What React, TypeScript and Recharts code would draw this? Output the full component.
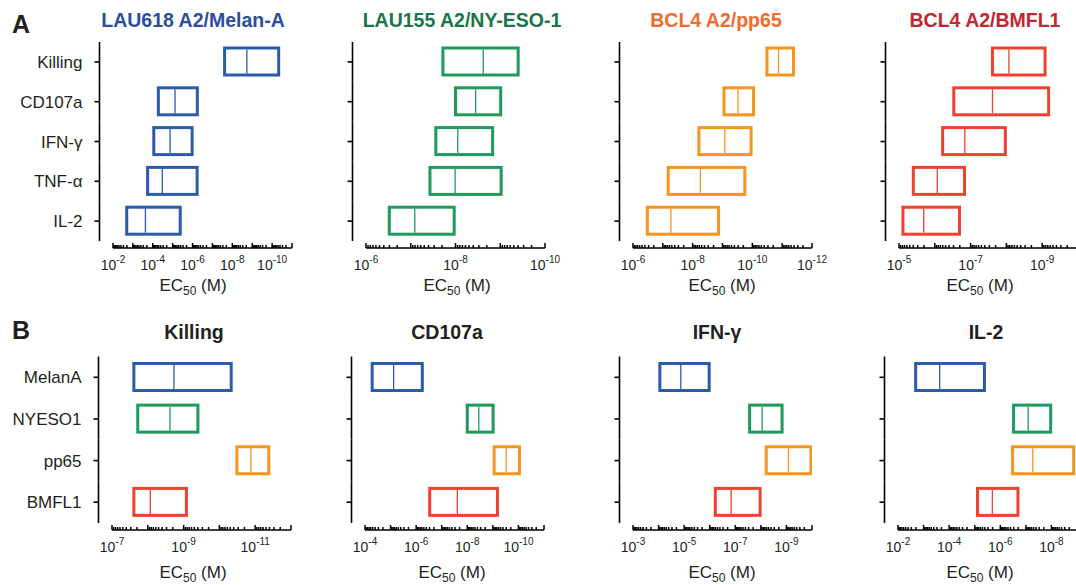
import React from "react";
import { BarChart, Bar, XAxis, YAxis } from "recharts";

const FONT = '"Liberation Sans", Arial, Helvetica, sans-serif';

// ---------- data ----------
const functions = ["Killing", "CD107a", "IFN-γ", "TNF-α", "IL-2"];
const peptides = ["MelanA", "NYESO1", "pp65", "BMFL1"];

// EC50 (M) per function (order of `functions`): highest, median, lowest
const melanAMax = [2.45e-8, 5.25e-5, 8.91e-5, 1.82e-4, 2.04e-3];
const melanAMedian = [1.86e-9, 7.59e-6, 1.35e-5, 3.31e-5, 2.34e-4];
const melanAMin = [4.68e-11, 5.75e-7, 1.05e-6, 5.89e-7, 4.17e-6];

const nyeso1Max = [1.91e-8, 1.0e-8, 2.75e-8, 3.72e-8, 3.02e-7];
const nyeso1Median = [2.4e-9, 3.55e-9, 8.91e-9, 1.02e-8, 8.13e-8];
const nyeso1Min = [3.98e-10, 9.77e-10, 1.48e-9, 9.55e-10, 1.07e-8];

const pp65Max = [3.24e-11, 8.91e-10, 6.17e-9, 6.61e-8, 3.31e-7];
const pp65Median = [1.32e-11, 3.02e-10, 8.32e-10, 5.5e-9, 5.37e-8];
const pp65Min = [4.17e-12, 9.12e-11, 1.1e-10, 1.78e-10, 1.35e-9];

const bmfl1Max = [2.45e-8, 2.95e-7, 6.03e-7, 3.98e-6, 7.76e-6];
const bmfl1Median = [8.51e-9, 2.45e-8, 1.45e-7, 8.51e-7, 2.04e-6];
const bmfl1Min = [8.32e-10, 6.61e-10, 1.07e-8, 1.48e-7, 2.04e-7];

const rowATitles = ["LAU618 A2/Melan-A", "LAU155 A2/NY-ESO-1", "BCL4 A2/pp65", "BCL4 A2/BMFL1"];
const rowBFunctionIndex = [0, 1, 2, 4];

// x-axis decade ranges (exponents) and labelled decades
const rowADomains = [[-2, -11], [-6, -10], [-6, -12], [-5, -10]];
const rowALabels = [[-2, -4, -6, -8, -10], [-6, -8, -10], [-6, -8, -10, -12], [-5, -7, -9]];
const rowBDomains = [[-7, -12], [-4, -11], [-3, -10], [-2, -9]];
const rowBLabels = [[-7, -9, -11], [-4, -6, -8, -10], [-3, -5, -7, -9], [-2, -4, -6, -8]];

// ---------- styles / layout ----------
const peptideColors = ["#2B5CAA", "#1E9A5C", "#F7941E", "#EE4231"];
const titleColors = ["#2A4DA0", "#17774A", "#F26A2C", "#C3262F"];
const TEXT = "#231F20";

const Y_W = 113;
const AXIS_GAP = 13.5;
const PLOT_W = 179;
const RIGHT_M = 30;
const PAD_BOTTOM = 7;
const X_H = 30;

const seriesByPeptide = [
  [melanAMax, melanAMedian, melanAMin],
  [nyeso1Max, nyeso1Median, nyeso1Min],
  [pp65Max, pp65Median, pp65Min],
  [bmfl1Max, bmfl1Median, bmfl1Min],
];

function buildTicks(hiExp: number, loExp: number) {
  const t: number[] = [];
  for (let e = loExp; e <= hiExp; e++) {
    t.push(Math.pow(10, e));
    if (e < hiExp) for (let m = 2; m <= 9; m++) t.push(m * Math.pow(10, e));
  }
  return t;
}

const BoxShape = (props: any) => {
  const { x, y, width, height, payload } = props;
  const color = peptideColors[payload.pep];
  const lMax = Math.log10(payload.max);
  const lMin = Math.log10(payload.min);
  const lMed = Math.log10(payload.median);
  const xMax = x;
  const xMin = x + width;
  const mx = xMax + ((xMin - xMax) * (lMax - lMed)) / (lMax - lMin);
  const x0 = Math.min(xMax, xMin);
  const w = Math.abs(xMin - xMax);
  return (
    <g>
      <rect x={x0} y={y} width={w} height={height} fill="#fff" stroke={color} strokeWidth={3} />
      <line x1={mx} x2={mx} y1={y + 1.5} y2={y + height - 1.5} stroke={color} strokeWidth={1.3} />
    </g>
  );
};

const YTick = (props: any) => {
  const { x, y, payload, showLabel, band } = props;
  const ax = x - AXIS_GAP;
  return (
    <g>
      <line x1={ax} x2={ax} y1={y - band / 2} y2={y + band / 2} stroke="#000" strokeWidth={1.6} />
      <line x1={ax - 5} x2={ax} y1={y} y2={y} stroke="#000" strokeWidth={1.6} />
      {showLabel && (
        <text x={ax - 17} y={y + 6} textAnchor="end" fontSize={17} fontFamily={FONT} fill={TEXT}>
          {payload.value}
        </text>
      )}
    </g>
  );
};

const XTick = (props: any) => {
  const { x, y, payload, labels } = props;
  const e = Math.log10(payload.value);
  const re = Math.round(e);
  const isDecade = Math.abs(e - re) < 1e-6;
  const len = isDecade ? 5 : 3;
  return (
    <g>
      <line x1={x} x2={x} y1={y} y2={y - len} stroke="#000" strokeWidth={1.5} />
      {isDecade && labels.includes(re) && (
        <text x={x} y={y + 21.5} textAnchor="middle" fontSize={14} fontFamily={FONT} fill={TEXT}>
          10
          <tspan fontSize={10} dy={-6.5}>
            {String(re)}
          </tspan>
        </text>
      )}
    </g>
  );
};

type PanelProps = {
  data: any[];
  dom: number[];
  labels: number[];
  plotLeft: number;
  top: number;
  marginTop: number;
  bandsH: number;
  showCat: boolean;
};

const Panel = ({ data, dom, labels, plotLeft, top, marginTop, bandsH, showCat }: PanelProps) => {
  const band = bandsH / data.length;
  const height = marginTop + bandsH + PAD_BOTTOM + X_H;
  const width = Y_W + PLOT_W + RIGHT_M;
  const ticks = buildTicks(dom[0], dom[1]);
  return (
    <div style={{ position: "absolute", left: plotLeft - Y_W, top }}>
      <BarChart
        width={width}
        height={height}
        layout="vertical"
        data={data}
        margin={{ top: marginTop, right: RIGHT_M, bottom: 0, left: 0 }}
      >
        <XAxis
          type="number"
          scale="log"
          domain={[Math.pow(10, dom[1]), Math.pow(10, dom[0])]}
          reversed
          allowDataOverflow
          ticks={ticks}
          interval={0}
          tickLine={false}
          tickSize={0}
          tickMargin={0}
          height={X_H}
          axisLine={{ stroke: "#000", strokeWidth: 1.6 }}
          tick={(p: any) => <XTick {...p} labels={labels} />}
        />
        <YAxis
          type="category"
          dataKey="name"
          width={Y_W}
          axisLine={false}
          tickLine={false}
          tickSize={0}
          tickMargin={0}
          interval={0}
          padding={{ top: 0, bottom: PAD_BOTTOM }}
          tick={(p: any) => <YTick {...p} showLabel={showCat} band={band} />}
        />
        <Bar
          dataKey={(d: any) => [d.max, d.min]}
          barSize={27}
          isAnimationActive={false}
          shape={BoxShape}
        />
      </BarChart>
    </div>
  );
};

const rowAPlotLefts = [113, 366, 632.7, 899];
const rowBPlotLefts = [112, 364.5, 632.7, 898.3];
const rowATitleX = [193, 462, 716, 985];
const rowBTitleX = [194, 447, 717, 986];
const rowAAxisX = [193, 457, 722, 980];
const rowBAxisX = [193, 452, 722, 980];

const AxisTitle = ({ x, y }: { x: number; y: number }) => (
  <text x={x} y={y} textAnchor="middle" fontSize={17} fontFamily={FONT} fill={TEXT}>
    EC
    <tspan fontSize={12} dy={4}>
      50
    </tspan>
    <tspan dy={-4}> (M)</tspan>
  </text>
);

export default function App() {
  const rowAData = peptides.map((_, p) =>
    functions.map((f, i) => ({
      name: f,
      pep: p,
      max: seriesByPeptide[p][0][i],
      median: seriesByPeptide[p][1][i],
      min: seriesByPeptide[p][2][i],
    }))
  );
  const rowBData = rowBFunctionIndex.map((fi) =>
    peptides.map((pn, p) => ({
      name: pn,
      pep: p,
      max: seriesByPeptide[p][0][fi],
      median: seriesByPeptide[p][1][fi],
      min: seriesByPeptide[p][2][fi],
    }))
  );

  return (
    <div
      style={{
        position: "absolute",
        left: 0,
        top: 0,
        width: 1076,
        height: 585,
        overflow: "hidden",
        background: "#fff",
        fontFamily: FONT,
      }}
    >
      {rowAData.map((d, i) => (
        <Panel
          key={"a" + i}
          data={d}
          dom={rowADomains[i]}
          labels={rowALabels[i]}
          plotLeft={rowAPlotLefts[i]}
          top={0}
          marginTop={42}
          bandsH={199}
          showCat={i === 0}
        />
      ))}
      {rowBData.map((d, i) => (
        <Panel
          key={"b" + i}
          data={d}
          dom={rowBDomains[i]}
          labels={rowBLabels[i]}
          plotLeft={rowBPlotLefts[i]}
          top={300}
          marginTop={56.5}
          bandsH={166.5}
          showCat={i === 0}
        />
      ))}
      <svg
        width={1076}
        height={585}
        style={{ position: "absolute", left: 0, top: 0, pointerEvents: "none" }}
      >
        <text x={12} y={33} fontSize={25} fontWeight="bold" fontFamily={FONT} fill={TEXT}>
          A
        </text>
        <text x={12} y={339} fontSize={25} fontWeight="bold" fontFamily={FONT} fill={TEXT}>
          B
        </text>
        {rowATitles.map((t, i) => (
          <text
            key={t}
            x={rowATitleX[i]}
            y={27}
            textAnchor="middle"
            fontSize={19.5}
            fontWeight="bold"
            fontFamily={FONT}
            fill={titleColors[i]}
          >
            {t}
          </text>
        ))}
        {rowBFunctionIndex.map((fi, i) => (
          <text
            key={"bt" + i}
            x={rowBTitleX[i]}
            y={339}
            textAnchor="middle"
            fontSize={19.5}
            fontWeight="bold"
            fontFamily={FONT}
            fill={TEXT}
          >
            {functions[fi]}
          </text>
        ))}
        {rowAAxisX.map((x, i) => (
          <AxisTitle key={"ax" + i} x={x} y={290.7} />
        ))}
        {rowBAxisX.map((x, i) => (
          <AxisTitle key={"bx" + i} x={x} y={577.5} />
        ))}
      </svg>
    </div>
  );
}
